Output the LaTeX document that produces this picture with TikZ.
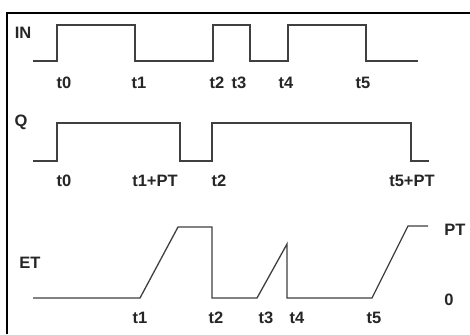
\documentclass[tikz,border=0pt]{standalone}
\usepackage{fontspec}
\setmainfont{Liberation Sans}
\begin{document}
\begin{tikzpicture}[x=1pt,y=-1pt,
  wave/.style={draw=black!75,line width=1.3pt,line join=miter},
  lbl/.style={inner sep=0pt,font=\fontsize{16.5}{16.5}\selectfont\bfseries,text=black!85},
  frame/.style={draw=black,line width=2pt}]
\useasboundingbox (0,0) rectangle (470,334);
\fill[white] (0,0) rectangle (470,334);
% frame
\draw[frame] (7,334) -- (7,13) -- (470,13);
% IN
\draw[wave] (33,61) -- (57,61) -- (57,25) -- (135,25) -- (135,61) -- (213,61) -- (213,25) -- (250,25) -- (250,61) -- (288,61) -- (288,25) -- (366,25) -- (366,61) -- (418,61);
\node[lbl] (in) at (23,33) {IN};
\node[lbl] (a0) at (64,83) {t0};
\node[lbl] (a1) at (139,83) {t1};
\node[lbl] (a2) at (217,83) {t2};
\node[lbl] (a3) at (239,83) {t3};
\node[lbl] (a4) at (286,83) {t4};
\node[lbl] (a5) at (363,83) {t5};
% Q
\draw[wave] (33,161) -- (57,161) -- (57,123) -- (180,123) -- (180,161) -- (212,161) -- (212,123) -- (411,123) -- (411,161) -- (429,161);
\node[lbl] (q) at (21,122) {Q};
\node[lbl] (b0) at (64,181) {t0};
\node[lbl] (b1) at (155,181) {t1+PT};
\node[lbl] (b2) at (219,181) {t2};
\node[lbl] (b5) at (412,181) {t5+PT};
% ET
\draw[wave] (33,298) -- (140,298) -- (178,227) -- (212,227) -- (212,298) -- (257,298) -- (287,244) -- (287,298) -- (372,298) -- (408,226) -- (428,226);
\node[lbl] (et) at (30,263) {ET};
\node[lbl] (c1) at (140,318) {t1};
\node[lbl] (c2) at (216,318) {t2};
\node[lbl] (c3) at (266,318) {t3};
\node[lbl] (c4) at (297,318) {t4};
\node[lbl] (c5) at (374,318) {t5};
\node[lbl] (pt) at (455,230) {PT};
\node[lbl] (zero) at (449,300) {0};
\end{tikzpicture}
\end{document}
